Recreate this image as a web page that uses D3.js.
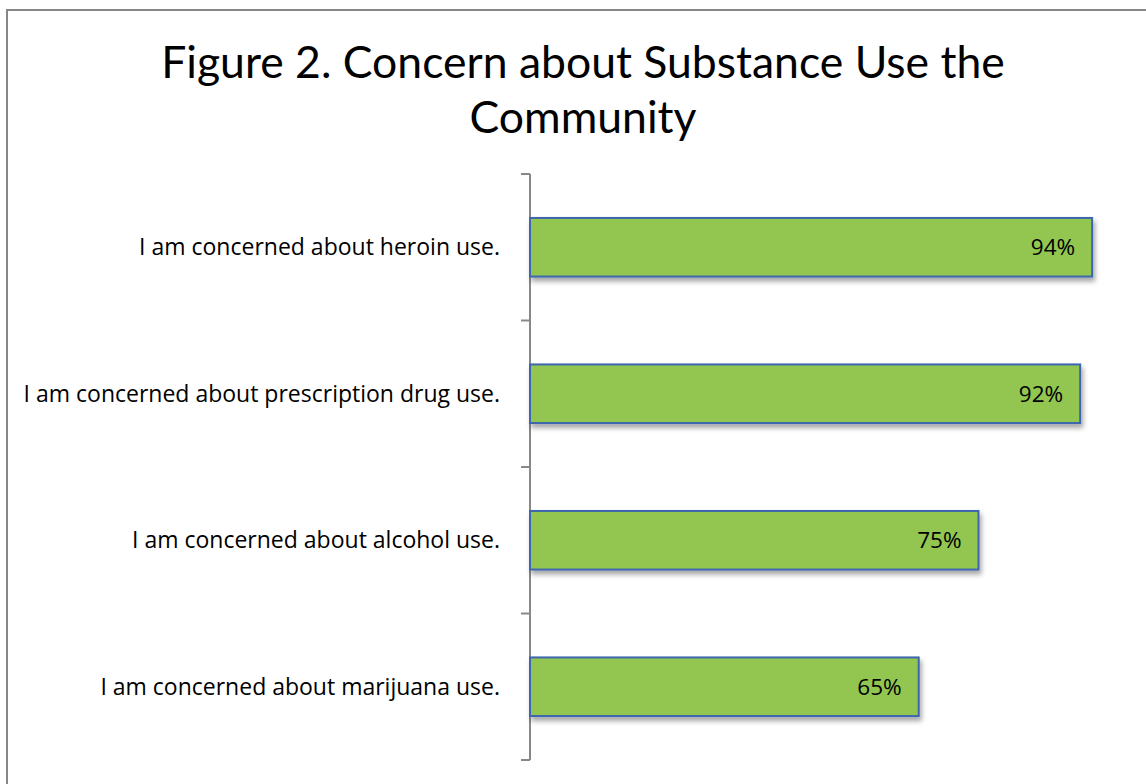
<!DOCTYPE html>
<html>
<head>
<meta charset="utf-8">
<script src="https://cdn.jsdelivr.net/npm/d3@7"></script>
<style>
  html, body { margin: 0; padding: 0; background: #fff; }
  svg { display: block; }
</style>
</head>
<body>
<svg id="chart" width="1146" height="784"></svg>
<script>
// Survey statements and share of respondents agreeing
const categories = [
  "I am concerned about heroin use.",
  "I am concerned about prescription drug use.",
  "I am concerned about alcohol use.",
  "I am concerned about marijuana use."
];
const values = [94, 92, 75, 65];
const titleLines = ["Figure 2. Concern about Substance Use the", "Community"];

const svg = d3.select("#chart");
const W = 1146, H = 784;

// Chart frame
svg.append("rect")
  .attr("x", 7).attr("y", 10)
  .attr("width", W + 20).attr("height", H + 20)
  .attr("fill", "#fff")
  .attr("stroke", "#878787").attr("stroke-width", 2);

// Drop shadow for bars
const defs = svg.append("defs");
const f = defs.append("filter").attr("id", "shadow")
  .attr("x", "-5%").attr("y", "-20%").attr("width", "115%").attr("height", "160%");
f.append("feDropShadow")
  .attr("dx", 2).attr("dy", 4).attr("stdDeviation", 2.5)
  .attr("flood-color", "#000").attr("flood-opacity", 0.35);

// Title
const title = svg.append("text")
  .attr("text-anchor", "middle")
  .attr("font-family", "Lato, 'Open Sans', sans-serif")
  .attr("font-size", 44.5)
  .attr("fill", "#000");
titleLines.forEach((t, i) => {
  title.append("tspan").attr("x", 583).attr("y", 78 + i * 55).text(t);
});

// Scales
const x0 = 530;
const x = d3.scaleLinear().domain([0, 100]).range([x0, x0 + 598]);
const padIn = 0.6;
const y = d3.scaleBand().domain(categories).range([174, 760])
  .paddingInner(padIn).paddingOuter(padIn / 2);
const step = y.step();

// Category axis: line with ticks at band boundaries
const axisG = svg.append("g");
axisG.append("line")
  .attr("x1", x0).attr("x2", x0)
  .attr("y1", y.range()[0]).attr("y2", y.range()[1])
  .attr("stroke", "#888").attr("stroke-width", 2);
const tickYs = categories.map(c => y(c) - step * padIn / 2).concat([y.range()[1]]);
axisG.selectAll("line.tick").data(tickYs).join("line")
  .attr("class", "tick")
  .attr("x1", x0 - 9).attr("x2", x0)
  .attr("y1", d => d).attr("y2", d => d)
  .attr("stroke", "#888").attr("stroke-width", 2);

// Category labels
svg.selectAll("text.cat").data(categories).join("text")
  .attr("class", "cat")
  .attr("x", 500)
  .attr("y", d => y(d) + y.bandwidth() / 2)
  .attr("dy", "0.35em")
  .attr("text-anchor", "end")
  .attr("font-family", "'Open Sans', Lato, sans-serif")
  .attr("font-size", 23)
  .attr("fill", "#000")
  .text(d => d);

// Bars
svg.selectAll("rect.bar").data(values).join("rect")
  .attr("class", "bar")
  .attr("x", x(0))
  .attr("y", (d, i) => y(categories[i]))
  .attr("width", d => x(d) - x(0))
  .attr("height", y.bandwidth())
  .attr("fill", "#92C651")
  .attr("stroke", "#3D66AE").attr("stroke-width", 2)
  .attr("filter", "url(#shadow)");

// Value labels inside bar ends
svg.selectAll("text.val").data(values).join("text")
  .attr("class", "val")
  .attr("x", d => x(d) - 17)
  .attr("y", (d, i) => y(categories[i]) + y.bandwidth() / 2)
  .attr("dy", "0.35em")
  .attr("text-anchor", "end")
  .attr("font-family", "'Open Sans', Lato, sans-serif")
  .attr("font-size", 22.5)
  .attr("fill", "#000")
  .text(d => d + "%");
</script>
</body>
</html>
